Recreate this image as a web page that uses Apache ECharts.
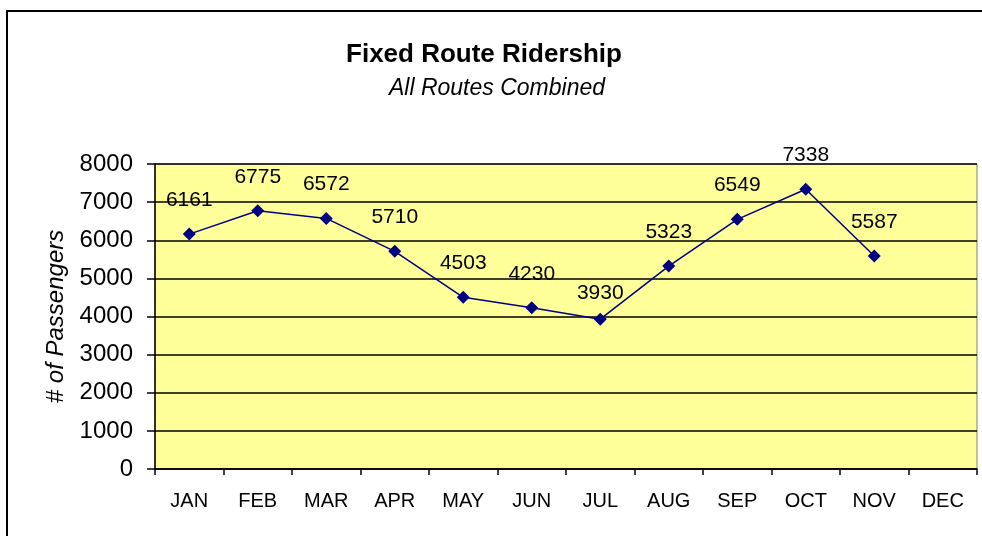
<!DOCTYPE html>
<html><head><meta charset="utf-8">
<script src="https://cdn.jsdelivr.net/npm/echarts@6/dist/echarts.min.js"></script>
<style>html,body{margin:0;padding:0;background:#fff}#c{width:982px;height:536px}</style>
</head><body><div id="c"></div>
<script>
const months = ['JAN','FEB','MAR','APR','MAY','JUN','JUL','AUG','SEP','OCT','NOV','DEC'];
const riders = [6161, 6775, 6572, 5710, 4503, 4230, 3930, 5323, 6549, 7338, 5587, null];
const yTicks = [0, 1000, 2000, 3000, 4000, 5000, 6000, 7000, 8000];

const FONT = 'Liberation Sans, Arial, sans-serif';
const seriesData = riders.map((v, i) =>
  months[i] === 'JUL' ? {value: v, label: {distance: 9}} : v);

const chart = echarts.init(document.getElementById('c'), null, {renderer: 'canvas'});
chart.setOption({
  animation: false,
  backgroundColor: '#fff',
  graphic: [{
    type: 'rect', shape: {x: 7, y: 11, width: 990, height: 540},
    style: {fill: 'none', stroke: '#000', lineWidth: 2}, silent: true, z: -1
  }],
  title: [{
    text: 'Fixed Route Ridership', left: 484, top: 42, textAlign: 'center', padding: 0,
    textStyle: {fontFamily: FONT, fontWeight: 'bold', fontSize: 26, color: '#000'}
  }, {
    text: 'All Routes Combined', left: 497, top: 77, textAlign: 'center', padding: 0,
    textStyle: {fontFamily: FONT, fontStyle: 'italic', fontWeight: 'normal', fontSize: 23, color: '#000'}
  }],
  grid: {left: 155, top: 164, width: 822, height: 305, backgroundColor: '#FFFF99', show: true,
    borderColor: '#808080', borderWidth: 1},
  xAxis: {
    type: 'category', data: months, boundaryGap: true,
    axisLine: {lineStyle: {color: '#000', width: 1.5}},
    axisTick: {show: true, length: 6, inside: false, alignWithLabel: false, lineStyle: {color: '#000', width: 1.5}},
    axisLabel: {fontFamily: FONT, fontSize: 20, color: '#000', margin: 22}
  },
  yAxis: {
    type: 'value', min: 0, max: 8000, interval: 1000,
    name: '# of Passengers', nameLocation: 'middle', nameGap: 85, nameRotate: 90,
    nameTextStyle: {fontFamily: FONT, fontStyle: 'italic', fontSize: 24, color: '#000'},
    axisLine: {show: true, lineStyle: {color: '#000', width: 1.5}},
    axisTick: {show: true, length: 8, lineStyle: {color: '#000', width: 1.5}},
    axisLabel: {fontFamily: FONT, fontSize: 24, color: '#000', margin: 22,
      formatter: v => yTicks.includes(v) ? String(v) : ''},
    splitLine: {show: true, lineStyle: {color: '#000', width: 1.5}}
  },
  series: [{
    type: 'line', data: seriesData, connectNulls: false,
    symbol: 'diamond', symbolSize: 13,
    lineStyle: {color: '#000080', width: 1.5},
    itemStyle: {color: '#000080'},
    label: {show: true, position: 'top', distance: 17,
      fontFamily: FONT, fontSize: 21, color: '#000'}
  }]
});
</script></body></html>
